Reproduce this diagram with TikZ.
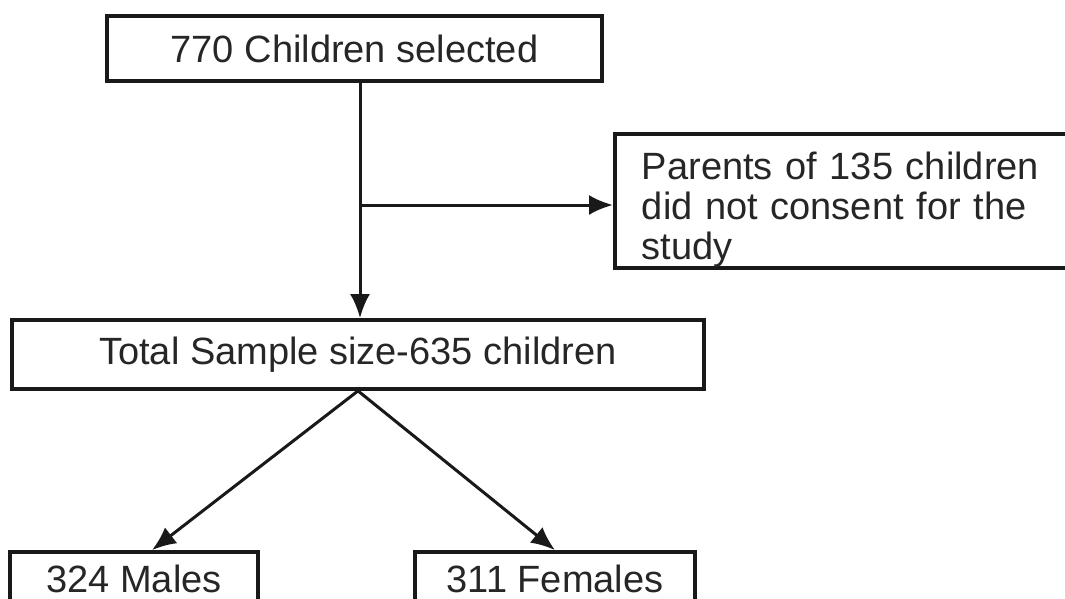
\documentclass[tikz,border=0pt]{standalone}
\usepackage{fontspec}
\setmainfont{Liberation Sans}
\usepackage{tikz}
\usetikzlibrary{arrows.meta, positioning, calc}

\tikzset{
  box/.style={draw=black!90, line width=1.9pt, inner sep=0pt, text=black!85},
  arr/.style={draw=black!90, line width=1.5pt, -{Latex[length=12pt,width=10pt]}}
}

\begin{document}
\begin{tikzpicture}[x=0.5pt, y=-0.5pt, font=\fontsize{19}{20}\selectfont]
  % Frame of the picture
  \useasboundingbox (0,0) rectangle (1065,599);
  \clip (0,0) rectangle (1065,599);

  % Boxes
  \node[box, minimum width=247.5pt, minimum height=32.5pt] (sel) at (354.5,48.5) {770 Children selected};
  \node[box, anchor=west, minimum height=67pt, text width=210pt, inner xsep=13.5pt, align=left] (consent) at (613,201)
    {\rule{0pt}{22.5pt}Parents of 135 children\\did not consent for the\\study};
  \node[box, minimum width=346pt, minimum height=34.5pt] (total) at (358,354.5) {Total Sample size-635 children};
  \node[box, minimum width=124pt, minimum height=27pt] (males) at (134,579) {324 Males};
  \node[box, minimum width=140pt, minimum height=27pt] (females) at (555,579) {311 Females};

  % Branch point
  \coordinate (split) at (360,205);

  % Connectors
  \draw[arr] (sel.south -| split) -- (total.north -| split);
  \draw[arr] (split) -- (consent.west |- split);
  \draw[arr] (total.south) -- ([xshift=9pt]males.north);
  \draw[arr] (total.south) -- (females.north);
\end{tikzpicture}
\end{document}
